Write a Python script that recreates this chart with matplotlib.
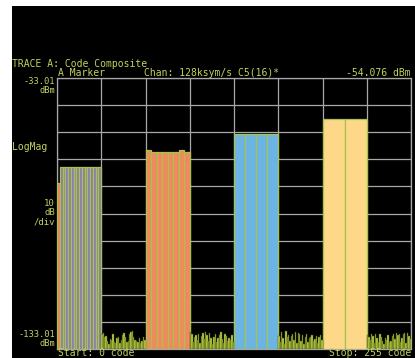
import numpy as np
import matplotlib.pyplot as plt

# code domain power, dBm per code channel
# pilot channel (codes 0-1)
pilot_start = [0]
pilot_dbm = [-71.8]

# purple group, 2 codes per channel, codes 2-31
purple_start = [2, 4, 6, 8, 10, 12, 14, 16, 18, 20, 22, 24, 26, 28, 30]
purple_dbm = [-65.8, -65.8, -65.8, -65.8, -65.8, -65.8, -65.8, -65.8,
              -65.8, -65.8, -65.8, -65.8, -65.8, -65.8, -65.8]

# orange group, 4 codes per channel, codes 64-95
orange_start = [64, 68, 72, 76, 80, 84, 88, 92]
orange_dbm = [-59.6, -60.2, -60.2, -60.2, -60.2, -60.2, -59.6, -60.2]

# blue group, 8 codes per channel, codes 128-159
blue_start = [128, 136, 144, 152]
blue_dbm = [-53.8, -53.8, -53.8, -53.8]

# yellow group, 16 codes per channel, codes 192-223
yellow_start = [192, 208]
yellow_dbm = [-48.0, -48.0]

# inactive codes (noise floor)
noise_a = [-127.4, -127.0, -128.6, -128.2, -129.9, -131.1, -129.3, -129.6,
           -127.4, -130.5, -130.8, -128.9, -128.6, -130.8, -129.6, -128.0,
           -127.2, -128.4, -130.5, -130.2, -127.4, -126.6, -126.2, -128.6,
           -129.6, -130.2, -130.5, -128.9, -130.8, -129.9, -128.6, -129.6]
noise_b = [-126.9, -127.3, -130.6, -128.4, -127.9, -129.8, -127.6, -130.9,
           -128.2, -127.0, -129.5, -126.8, -128.0, -130.2, -127.1, -129.0,
           -131.0, -128.5, -127.4, -130.4, -128.8, -127.8, -126.6, -129.3,
           -130.7, -127.5, -128.1, -130.0, -128.9, -129.6, -127.9, -130.3]
noise_c = [-128.1, -130.6, -126.9, -128.9, -131.2, -126.4, -128.6, -127.7,
           -130.1, -128.3, -127.3, -129.6, -126.9, -130.9, -127.2, -127.6,
           -129.9, -128.0, -131.0, -128.4, -127.6, -130.6, -129.1, -128.6,
           -127.7, -130.2, -129.4, -128.1, -130.8, -128.5, -127.9, -129.7]
noise_d = [-127.8, -128.6, -129.6, -127.3, -128.2, -130.9, -127.6, -129.1,
           -130.4, -127.5, -128.7, -130.1, -131.0, -128.9, -129.7, -127.8,
           -130.6, -129.9, -128.3, -127.4, -129.2, -127.1, -128.0, -127.6,
           -130.3, -128.9, -127.5, -127.2, -130.7, -127.0, -128.2, -129.4]
noise_start = [32, 96, 160, 224]

ref_top = -33.01
ref_bot = -133.01

fg = '#c4d060'
grid_c = '#a8a8a8'
edge_green = '#a6c44a'

fig = plt.figure(figsize=(4.15, 3.58), dpi=100)
fig.patch.set_facecolor('white')
# black screen area
bg = fig.add_axes([12 / 415, 0, 1 - 12 / 415, 1 - 6 / 358])
bg.set_facecolor('black')
bg.set_xticks([])
bg.set_yticks([])
for s in bg.spines.values():
    s.set_visible(False)

ax = fig.add_axes([57 / 415, 9 / 358, 354 / 415, 271 / 358])
ax.set_facecolor('black')
ax.set_xlim(0, 256)
ax.set_ylim(ref_bot, ref_top)
ax.set_xticks(np.linspace(0, 256, 9))
ax.set_yticks(np.linspace(ref_bot, ref_top, 11))
ax.tick_params(length=0, labelbottom=False, labelleft=False)
ax.grid(True, color=grid_c, lw=0.9)
ax.set_axisbelow(True)
for s in ax.spines.values():
    s.set_color(grid_c)
    s.set_linewidth(0.9)


def draw_group(starts, vals, width, color):
    h = np.array(vals) - ref_bot
    ax.bar(starts, h, width=width, bottom=ref_bot, align='edge',
           color=color, edgecolor=edge_green, linewidth=0.9, zorder=3)


draw_group(pilot_start, pilot_dbm, 2, '#f07c58')
draw_group(purple_start, purple_dbm, 2, '#8a78b8')
draw_group(orange_start, orange_dbm, 4, '#f28860')
draw_group(blue_start, blue_dbm, 8, '#6cb4e4')
draw_group(yellow_start, yellow_dbm, 16, '#fcd888')

for st, vals in zip(noise_start, [noise_a, noise_b, noise_c, noise_d]):
    codes = np.arange(st, st + len(vals))
    ax.bar(codes, np.array(vals) - ref_bot, width=1, bottom=ref_bot,
           align='edge', color='#c8dc48', edgecolor='#44520e',
           linewidth=0.35, zorder=3)

mono = dict(family='DejaVu Sans Mono', color=fg)


def txt(px, py, s, ha='left', size=7):
    fig.text(px / 415, 1 - py / 358, s, ha=ha, va='center',
             fontsize=size, **mono)


txt(12, 64, 'TRACE A: Code Composite')
txt(58, 72.5, 'A Marker')
txt(144, 72.5, 'Chan: 128ksym/s C5(16)*')
txt(411, 72.5, '-54.076 dBm', ha='right')
txt(55, 81.5, '-33.01', ha='right', size=6.3)
txt(55, 90.5, 'dBm', ha='right', size=6.3)
txt(12, 147, 'LogMag')
txt(55, 204, '10', ha='right', size=6.5)
txt(55, 213, 'dB', ha='right', size=6.5)
txt(55, 222, '/div', ha='right', size=6.5)
txt(55, 334.5, '-133.01', ha='right', size=6.3)
txt(55, 343.5, 'dBm', ha='right', size=6.3)
txt(58, 353.5, 'Start: 0 code')
txt(411, 353.5, 'Stop: 255 code', ha='right')

fig.savefig('out.png', dpi=100, facecolor=fig.get_facecolor())
